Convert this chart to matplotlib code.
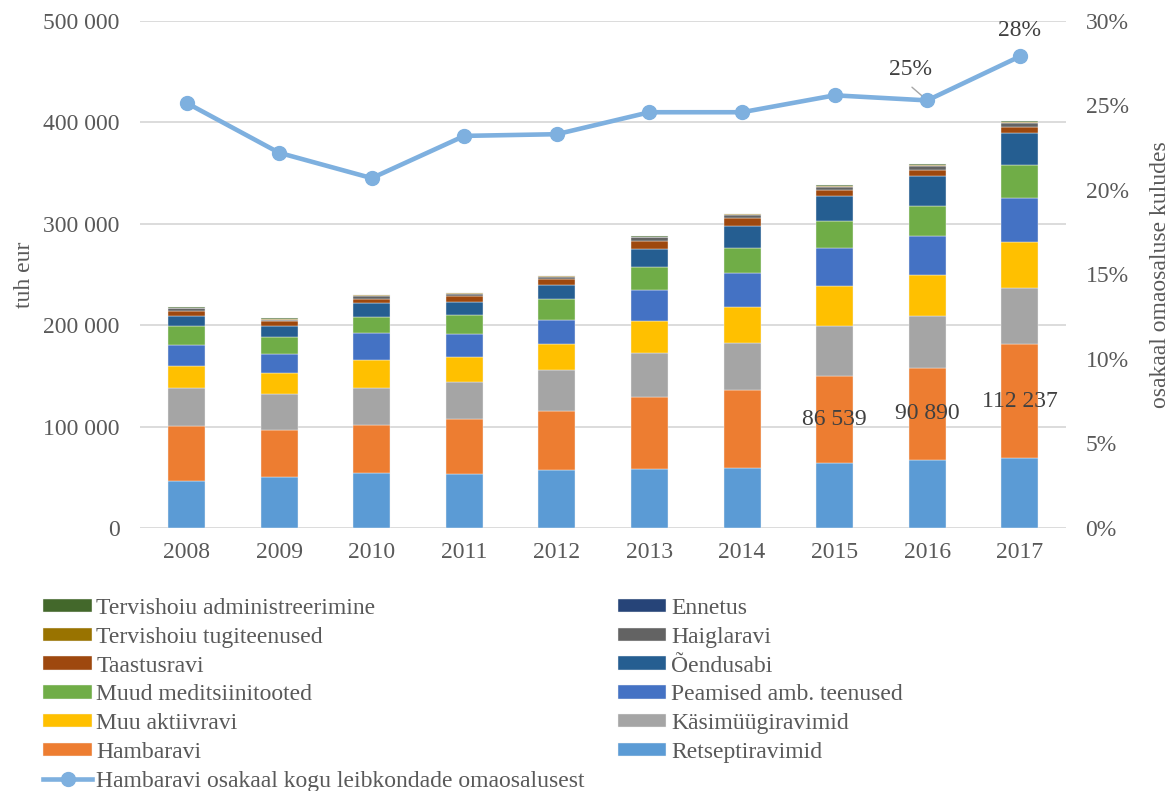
import matplotlib
matplotlib.use("Agg")
import matplotlib.pyplot as plt
from matplotlib.ticker import FuncFormatter

years = ["2008", "2009", "2010", "2011", "2012", "2013", "2014", "2015", "2016", "2017"]

# tuh eur, stacked bottom -> top
retseptiravimid = [46400, 50000, 53900, 52900, 57300, 57900, 59200, 63800, 67100, 69100]
hambaravi = [54600, 46400, 47800, 54300, 57800, 71400, 77000, 86539, 90890, 112237]
kasimyyk = [36800, 36200, 36500, 37200, 40900, 43100, 46400, 48700, 50900, 55200]
muu_aktiivravi = [21700, 20400, 27900, 24400, 25200, 32200, 35200, 39500, 40500, 45800]
peamised_amb = [21100, 18800, 26000, 22700, 24100, 30000, 33500, 37900, 38500, 43100]
muud_meditsiin = [18800, 16100, 15500, 18400, 20100, 23100, 24400, 26000, 29300, 32300]
oendusabi = [9900, 11100, 13800, 13200, 14100, 17300, 22400, 25000, 29900, 32200]
taastusravi = [4900, 5000, 4300, 5500, 5600, 8300, 7900, 5900, 5900, 5600]
haiglaravi = [2600, 1600, 2900, 2400, 2300, 3300, 3000, 3300, 4000, 3900]
tugiteenused = [500, 700, 1000, 700, 900, 700, 700, 900, 1200, 1200]
ennetus = [100, 100, 100, 100, 100, 100, 100, 100, 100, 100]
administreerimine = [200, 200, 200, 200, 200, 200, 200, 200, 200, 200]

# Hambaravi share of households' out-of-pocket spending, %
hamba_osakaal = [25.15, 22.2, 20.7, 23.2, 23.3, 24.6, 24.6, 25.6, 25.3, 27.9]

series = [
    ("Retseptiravimid", retseptiravimid, "#5B9BD5"),
    ("Hambaravi", hambaravi, "#ED7D31"),
    ("Käsimüügiravimid", kasimyyk, "#A5A5A5"),
    ("Muu aktiivravi", muu_aktiivravi, "#FFC000"),
    ("Peamised amb. teenused", peamised_amb, "#4472C4"),
    ("Muud meditsiinitooted", muud_meditsiin, "#70AD47"),
    ("Õendusabi", oendusabi, "#255E91"),
    ("Taastusravi", taastusravi, "#9E480E"),
    ("Haiglaravi", haiglaravi, "#636363"),
    ("Tervishoiu tugiteenused", tugiteenused, "#997300"),
    ("Ennetus", ennetus, "#264478"),
    ("Tervishoiu administreerimine", administreerimine, "#43682B"),
]

plt.rcParams["font.family"] = ["Liberation Serif", "DejaVu Serif"]
txt = "#595959"
fs = 17

fig = plt.figure(figsize=(11.69, 7.91), dpi=100)
ax = fig.add_axes([0.12, 0.3325, 0.792, 0.641])
ax2 = ax.twinx()

x = list(range(len(years)))
bottom = [0] * len(years)
bars = {}
for name, vals, col in series:
    bars[name] = ax.bar(x, vals, 0.4, bottom=bottom, color=col, edgecolor="#F2F2F2",
                        linewidth=0.3, label=name, zorder=2)
    bottom = [b + v for b, v in zip(bottom, vals)]

hl = [""] * 7 + ["86 539", "90 890", "112 237"]
ax.bar_label(bars["Hambaravi"], labels=hl, label_type="center", fontsize=fs, color="#404040")

ax.set_ylim(0, 500000)
ax.set_xlim(-0.5, 9.5)
ax.set_yticks(range(0, 500001, 100000))
ax.yaxis.set_major_formatter(FuncFormatter(lambda v, p: f"{int(v):,}".replace(",", " ")))
ax.grid(axis="y", color="#D9D9D9", linewidth=1.3, zorder=0)
ax.set_axisbelow(True)
ax.set_xticks(x)
ax.set_xticklabels(years)
ax.set_ylabel("tuh eur", fontsize=fs, color=txt, labelpad=6)

line, = ax2.plot(x, hamba_osakaal, color="#7EB0DF", linewidth=3.3, marker="o",
                 markersize=10, zorder=5,
                 label="Hambaravi osakaal kogu leibkondade omaosalusest")
ax2.set_ylim(0, 30)
ax2.set_yticks(range(0, 31, 5))
ax2.yaxis.set_major_formatter(FuncFormatter(lambda v, p: f"{int(v)}%"))
ax2.set_ylabel("osakaal omaosaluse kuludes", fontsize=fs, color=txt, labelpad=15)

# 25% label with a short leader line, 28% label straight above the point
ax2.annotate("", xy=(8, hamba_osakaal[8]), xytext=(-11, 9.5), textcoords="offset points",
             arrowprops=dict(arrowstyle="-", color="#A6A6A6", lw=1, shrinkA=0, shrinkB=2),
             zorder=4)
ax2.annotate("25%", xy=(8, hamba_osakaal[8]), xytext=(-12, 22), textcoords="offset points",
             ha="center", va="center", fontsize=fs, color="#404040")
ax2.annotate("28%", xy=(9, hamba_osakaal[9]), xytext=(0, 19), textcoords="offset points",
             ha="center", va="center", fontsize=fs, color="#404040")

for a in (ax, ax2):
    for s in a.spines.values():
        s.set_visible(False)
    a.tick_params(length=0, labelsize=fs, labelcolor=txt)
ax.tick_params(axis="x", pad=10)
ax.tick_params(axis="y", pad=15)
ax2.tick_params(axis="y", pad=14)

# legend: two columns, reverse series order read row by row
rev = [bars[name] for name, _, _ in reversed(series)]
col1 = rev[0::2] + [line]
col2 = rev[1::2]
handles = col1 + col2
labels = [h.get_label() for h in handles]
leg = fig.legend(handles, labels, ncol=2, loc="upper left", bbox_to_anchor=(0.027, 0.259),
                 frameon=False, fontsize=fs, handlelength=2.05, handleheight=0.5,
                 handletextpad=0.2, columnspacing=1.4, labelspacing=0.33, borderpad=0)
for t in leg.get_texts():
    t.set_color(txt)

fig.savefig("out.png", dpi=100)
